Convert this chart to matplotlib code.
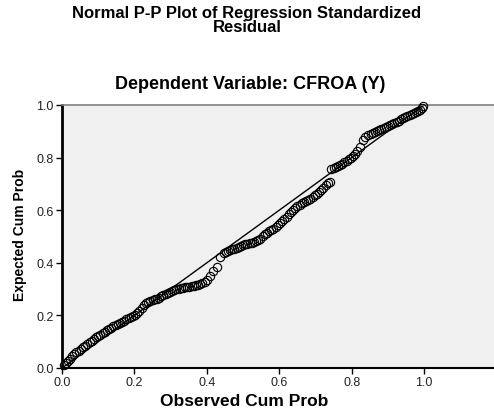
import matplotlib
matplotlib.use("Agg")
import matplotlib.pyplot as plt

# observed cumulative probability vs expected cumulative probability
obs_cum = [0.005, 0.010, 0.016, 0.022, 0.028, 0.034, 0.040, 0.046, 0.052, 0.058,
           0.064, 0.070, 0.076, 0.082, 0.088, 0.094, 0.100, 0.106, 0.112, 0.118,
           0.124, 0.130, 0.136, 0.142, 0.148, 0.154, 0.160, 0.166, 0.172, 0.178,
           0.184, 0.190, 0.196, 0.202, 0.208, 0.214, 0.220, 0.226, 0.232, 0.238,
           0.244, 0.250, 0.256, 0.262, 0.268, 0.274, 0.280, 0.286, 0.292, 0.298,
           0.304, 0.310, 0.316, 0.322, 0.328, 0.334, 0.340, 0.346, 0.352, 0.358,
           0.364, 0.370, 0.376, 0.382, 0.388, 0.394, 0.400, 0.408, 0.418, 0.427,
           0.436, 0.446, 0.452, 0.458, 0.464, 0.470, 0.476, 0.482, 0.488, 0.494,
           0.500, 0.506, 0.512, 0.518, 0.524, 0.530, 0.536, 0.542, 0.548, 0.554,
           0.560, 0.566, 0.572, 0.578, 0.584, 0.590, 0.596, 0.602, 0.608, 0.614,
           0.620, 0.626, 0.632, 0.638, 0.644, 0.650, 0.656, 0.662, 0.668, 0.674,
           0.680, 0.686, 0.692, 0.698, 0.704, 0.710, 0.716, 0.722, 0.728, 0.734,
           0.740, 0.744, 0.750, 0.756, 0.762, 0.768, 0.774, 0.780, 0.786, 0.792,
           0.798, 0.804, 0.810, 0.816, 0.822, 0.830, 0.838, 0.846, 0.852, 0.858,
           0.864, 0.870, 0.876, 0.882, 0.888, 0.894, 0.900, 0.906, 0.912, 0.918,
           0.924, 0.930, 0.936, 0.942, 0.948, 0.954, 0.960, 0.966, 0.972, 0.978,
           0.984, 0.990, 0.995, 0.998]
exp_cum = [0.012, 0.020, 0.028, 0.036, 0.045, 0.054, 0.060, 0.066, 0.072, 0.078,
           0.085, 0.091, 0.098, 0.104, 0.110, 0.116, 0.121, 0.126, 0.132, 0.138,
           0.144, 0.148, 0.153, 0.159, 0.164, 0.168, 0.171, 0.175, 0.180, 0.186,
           0.191, 0.195, 0.199, 0.203, 0.210, 0.218, 0.228, 0.238, 0.246, 0.251,
           0.255, 0.258, 0.261, 0.264, 0.268, 0.272, 0.276, 0.280, 0.284, 0.288,
           0.293, 0.297, 0.300, 0.302, 0.304, 0.306, 0.307, 0.308, 0.309, 0.310,
           0.312, 0.314, 0.316, 0.319, 0.322, 0.326, 0.336, 0.350, 0.370, 0.385,
           0.421, 0.438, 0.442, 0.445, 0.448, 0.451, 0.454, 0.457, 0.461, 0.465,
           0.468, 0.471, 0.473, 0.475, 0.477, 0.479, 0.482, 0.486, 0.492, 0.500,
           0.508, 0.515, 0.520, 0.525, 0.530, 0.536, 0.544, 0.552, 0.560, 0.568,
           0.576, 0.584, 0.592, 0.600, 0.608, 0.616, 0.621, 0.626, 0.630, 0.634,
           0.638, 0.643, 0.649, 0.656, 0.663, 0.670, 0.678, 0.686, 0.694, 0.703,
           0.708, 0.756, 0.760, 0.764, 0.768, 0.772, 0.777, 0.782, 0.787, 0.793,
           0.799, 0.806, 0.815, 0.826, 0.842, 0.866, 0.880, 0.886, 0.890, 0.894,
           0.898, 0.901, 0.904, 0.907, 0.911, 0.915, 0.919, 0.923, 0.927, 0.931,
           0.936, 0.941, 0.946, 0.951, 0.955, 0.959, 0.962, 0.965, 0.968, 0.972,
           0.976, 0.981, 0.988, 0.995]
ref_line = [0.0, 1.0]
ticks = [0.0, 0.2, 0.4, 0.6, 0.8, 1.0]
tick_labels = ["0.0", "0.2", "0.4", "0.6", "0.8", "1.0"]

plt.rcParams['font.family'] = ['Liberation Sans', 'DejaVu Sans']

fig = plt.figure(figsize=(4.94, 4.14), dpi=100)
ax = fig.add_axes([0.1255, 0.1087, 0.8745, 0.6353])
ax.set_facecolor('#f0f0f0')

ax.plot(ref_line, ref_line, color='black', linewidth=1.0, zorder=2)
ax.plot(obs_cum, exp_cum, linestyle='none', marker='o', markersize=6,
        markerfacecolor='none', markeredgecolor='black', markeredgewidth=0.8,
        zorder=3, clip_on=False)

ax.set_xlim(0, 1.193)
ax.set_ylim(0, 1.0)
ax.set_xticks(ticks)
ax.set_xticklabels(tick_labels)
ax.set_yticks(ticks)
ax.set_yticklabels(tick_labels)
ax.tick_params(axis='both', direction='out', length=4, width=1, labelsize=9,
               labelcolor='#222222', pad=2)

ax.spines['right'].set_visible(False)
ax.spines['top'].set_color('#808080')
ax.spines['top'].set_linewidth(1.2)
ax.spines['left'].set_linewidth(2.0)
ax.spines['bottom'].set_linewidth(1.5)

fig.text(0.5, 0.950, "Normal P-P Plot of Regression Standardized\nResidual",
         ha='center', va='center', multialignment='center', linespacing=0.95,
         fontsize=12, fontweight='bold')
fig.text(0.506, 0.795, "Dependent Variable: CFROA (Y)", ha='center',
         va='center', fontsize=13, fontweight='bold')
fig.text(0.495, 0.029, "Observed Cum Prob", ha='center', va='center',
         fontsize=12.5, fontweight='bold')
fig.text(0.041, 0.432, "Expected Cum Prob", ha='center', va='center',
         rotation=90, fontsize=10, fontweight='bold')

fig.savefig("out.png", dpi=100)
